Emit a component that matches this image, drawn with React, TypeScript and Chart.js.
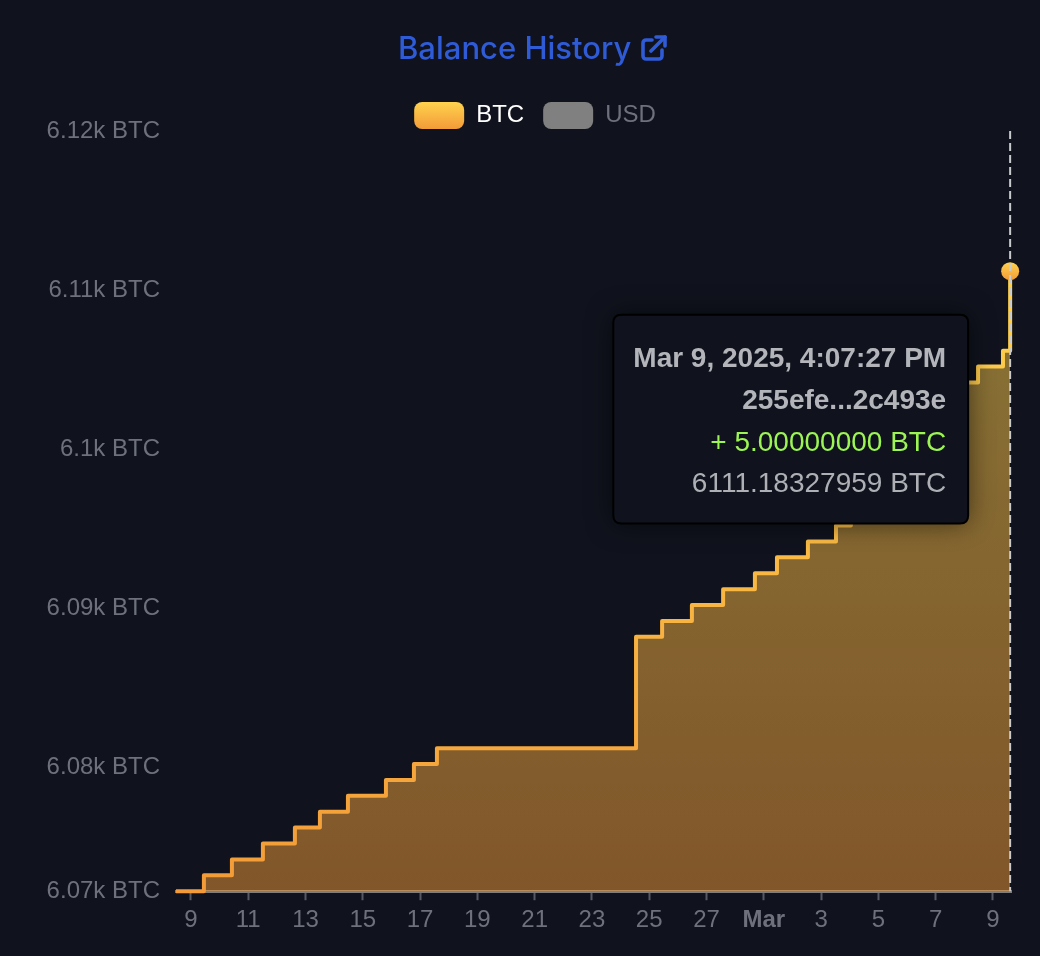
import { useEffect, useRef } from "react";
import { Chart, registerables, Tooltip } from "chart.js";

Chart.register(...registerables);

// days counted from Feb 9, 2025
const txDays = [
  -0.52, 0.454, 1.432, 2.514, 3.631, 4.504, 5.482, 6.809, 7.786, 8.589, 15.54, 16.45, 17.49, 18.58, 19.69, 20.46,
  21.54, 22.52, 23.04, 23.57, 24.09, 24.62, 25.14, 25.66, 26.19, 26.71, 26.99, 27.48, 28.35, 28.6,
];
const balances = [
  6072.18, 6073.18, 6074.18, 6075.18, 6076.18, 6077.18, 6078.18, 6079.18, 6080.18, 6081.18, 6088.18, 6089.18, 6090.18,
  6091.18, 6092.18, 6093.18, 6094.18, 6095.18, 6096.18, 6097.18, 6098.18, 6099.18, 6100.18, 6101.18, 6102.18, 6103.18,
  6104.18, 6105.18, 6106.18, 6111.18327959,
];
const xTickDays = [0, 2, 4, 6, 8, 10, 12, 14, 16, 18, 20, 22, 24, 26, 28];
const xTickLabels = ["9", "11", "13", "15", "17", "19", "21", "23", "25", "27", "Mar", "3", "5", "7", "9"];
const yTickValues = [6072.18, 6080, 6090, 6100, 6110, 6120];
const yTickLabels = ["6.07k BTC", "6.08k BTC", "6.09k BTC", "6.1k BTC", "6.11k BTC", "6.12k BTC"];
const tooltipTitle = ["Mar 9, 2025, 4:07:27 PM", "255efe...2c493e"];
const tooltipChange = "+ 5.00000000 BTC";
const tooltipBalance = "6111.18327959 BTC";

const BG = "#10131d";
const MUTED = "#6e717c";
const FONT = '"Liberation Sans", Arial, sans-serif';

(Tooltip.positioners as any).balanceBox = (items: any[]) => {
  if (!items.length) return false;
  const el = items[0].element;
  return { x: el.x - 42, y: el.y + 148 };
};

function orangeGradient(c: CanvasRenderingContext2D, top: number, bottom: number, alpha = 1) {
  const g = c.createLinearGradient(0, top, 0, bottom);
  g.addColorStop(0, `rgba(255, 211, 78, ${alpha})`);
  g.addColorStop(1, `rgba(242, 155, 56, ${alpha})`);
  return g;
}

const stylePlugin = {
  id: "balanceStyle",
  // legend sits tight on the plot, labels.padding is only wanted between items
  beforeLayout(chart: any) {
    const legend = chart.legend;
    if (legend && !legend._patched) {
      const fit = legend.fit;
      legend.fit = function () {
        fit.call(this);
        this.height = 48;
      };
      legend._patched = true;
    }
  },
  // the legend is centred at x=534 in the reference, not over the canvas
  afterLayout(chart: any) {
    chart.legend.left += 29.5;
    chart.legend.right += 29.5;
  },
  afterDatasetsDraw(chart: any) {
    const active = chart.getActiveElements()[0];
    if (!active) return;
    const { ctx, chartArea } = chart;
    ctx.save();
    ctx.strokeStyle = "#c9cace";
    ctx.lineWidth = 2;
    ctx.setLineDash([8, 4]);
    ctx.beginPath();
    ctx.moveTo(active.element.x, chartArea.top);
    ctx.lineTo(active.element.x, chartArea.bottom);
    ctx.stroke();
    ctx.restore();
  },
  beforeTooltipDraw(chart: any, args: any) {
    const t = args.tooltip;
    const { ctx } = chart;
    ctx.save();
    ctx.shadowColor = "rgba(0, 0, 0, 0.55)";
    ctx.shadowBlur = 26;
    ctx.fillStyle = BG;
    ctx.beginPath();
    ctx.roundRect(t.x, t.y, t.width, t.height, 8);
    ctx.fill();
    ctx.restore();
  },
};

function BalanceChart() {
  const chartRef = useRef<HTMLCanvasElement>(null);

  useEffect(() => {
    if (!chartRef.current) return;

    const chart = new Chart(chartRef.current, {
      type: "line",
      data: {
        datasets: [
          {
            label: "BTC",
            data: txDays.map((d, i) => ({ x: d, y: balances[i] })),
            stepped: true,
            fill: "start",
            clip: false,
            borderWidth: 4,
            borderJoinStyle: "round",
            borderColor: (c: any) => orangeGradient(c.chart.ctx, 271, 891),
            backgroundColor: (c: any) => orangeGradient(c.chart.ctx, 271, 891, 0.5),
            pointRadius: 0,
            pointHoverRadius: 9,
            pointHoverBorderWidth: 0,
            pointHoverBackgroundColor: (c: any) => orangeGradient(c.chart.ctx, 262, 280),
          },
          { label: "USD", data: [], hidden: true },
        ],
      } as any,
      options: {
        animation: false,
        responsive: false,
        events: [],
        font: { family: FONT },
        layout: { padding: { top: 83, left: 0, right: 29, bottom: 15 } },
        scales: {
          x: {
            type: "linear",
            min: -0.52,
            max: 28.63,
            afterBuildTicks: (s: any) => {
              s.ticks = xTickDays.map((v) => ({ value: v }));
            },
            grid: { display: true, drawOnChartArea: false, drawTicks: true, tickLength: 9, tickColor: "#565964", tickWidth: 2 },
            border: { color: "#7d7d7d", width: 3 },
            ticks: {
              autoSkip: false,
              maxRotation: 0,
              padding: 6,
              color: MUTED,
              font: (c: any) => ({
                family: FONT,
                size: 24,
                weight: xTickLabels[c.index] === "Mar" ? "bold" : "normal",
              }),
              callback: (_v: any, i: number) => xTickLabels[i],
            },
          },
          y: {
            min: 6072.18,
            max: 6120,
            afterBuildTicks: (s: any) => {
              s.ticks = yTickValues.map((v) => ({ value: v }));
            },
            afterFit: (s: any) => {
              s.width = 176;
            },
            grid: { display: false },
            border: { display: false },
            ticks: {
              autoSkip: false,
              padding: 8,
              color: MUTED,
              font: { family: FONT, size: 24 },
              callback: (_v: any, i: number) => yTickLabels[i],
            },
          },
        },
        plugins: {
          legend: {
            position: "top",
            labels: {
              boxWidth: 50,
              boxHeight: 27,
              padding: 19,
              font: { family: FONT, size: 24 },
              generateLabels: (ch: any) => [
                {
                  text: "BTC",
                  fillStyle: orangeGradient(ch.ctx, 102, 129),
                  fontColor: "#ffffff",
                  strokeStyle: "transparent",
                  lineWidth: 0,
                  borderRadius: 8,
                  hidden: false,
                  datasetIndex: 0,
                },
                {
                  text: "USD",
                  fillStyle: "#808080",
                  fontColor: MUTED,
                  strokeStyle: "transparent",
                  lineWidth: 0,
                  borderRadius: 8,
                  hidden: false,
                  datasetIndex: 1,
                },
              ],
            },
          },
          tooltip: {
            position: "balanceBox",
            xAlign: "right",
            yAlign: "center",
            caretSize: 0,
            caretPadding: 0,
            displayColors: false,
            backgroundColor: BG,
            borderColor: "#000000",
            borderWidth: 2,
            cornerRadius: 8,
            padding: { top: 28, bottom: 22, left: 20, right: 22 },
            titleAlign: "right",
            bodyAlign: "right",
            footerAlign: "right",
            titleColor: "#b3b5bb",
            bodyColor: "#9df554",
            footerColor: "#aeb0b6",
            titleFont: { family: FONT, size: 28, weight: "bold" },
            bodyFont: { family: FONT, size: 28 },
            footerFont: { family: FONT, size: 28, weight: "normal" },
            titleSpacing: 8.1,
            titleMarginBottom: 8.1,
            footerMarginTop: 8.1,
            callbacks: {
              title: () => tooltipTitle,
              label: () => tooltipChange,
              footer: () => tooltipBalance,
            },
          },
        } as any,
      },
      plugins: [stylePlugin],
    } as any);

    const last = [{ datasetIndex: 0, index: txDays.length - 1 }];
    chart.setActiveElements(last);
    chart.tooltip?.setActiveElements(last, { x: 0, y: 0 });
    chart.update();

    return () => chart.destroy();
  }, []);

  return <canvas ref={chartRef} width={1040} height={956} style={{ display: "block", width: 1040, height: 956 }} />;
}

export default function App() {
  return (
    <div style={{ position: "fixed", left: 0, top: 0, width: 1040, height: 956, overflow: "hidden", background: BG }}>
      <BalanceChart />
      <div
        style={{
          position: "absolute",
          left: 398,
          top: 30,
          display: "flex",
          alignItems: "center",
          gap: 10,
          color: "#2f5bd6",
          font: "500 31px Inter, sans-serif",
          lineHeight: "36px",
          whiteSpace: "nowrap",
        }}
      >
        <span>Balance History</span>
        <svg width="26" height="26" viewBox="0 0 26 26" fill="none" stroke="#2f5bd6" strokeWidth="3.6" strokeLinecap="round" strokeLinejoin="round">
          <path d="M11 5H5a3 3 0 0 0-3 3v13a3 3 0 0 0 3 3h13a3 3 0 0 0 3-3v-6" />
          <path d="M10 16L24 2" />
          <path d="M15 2h9v9" />
        </svg>
      </div>
    </div>
  );
}
